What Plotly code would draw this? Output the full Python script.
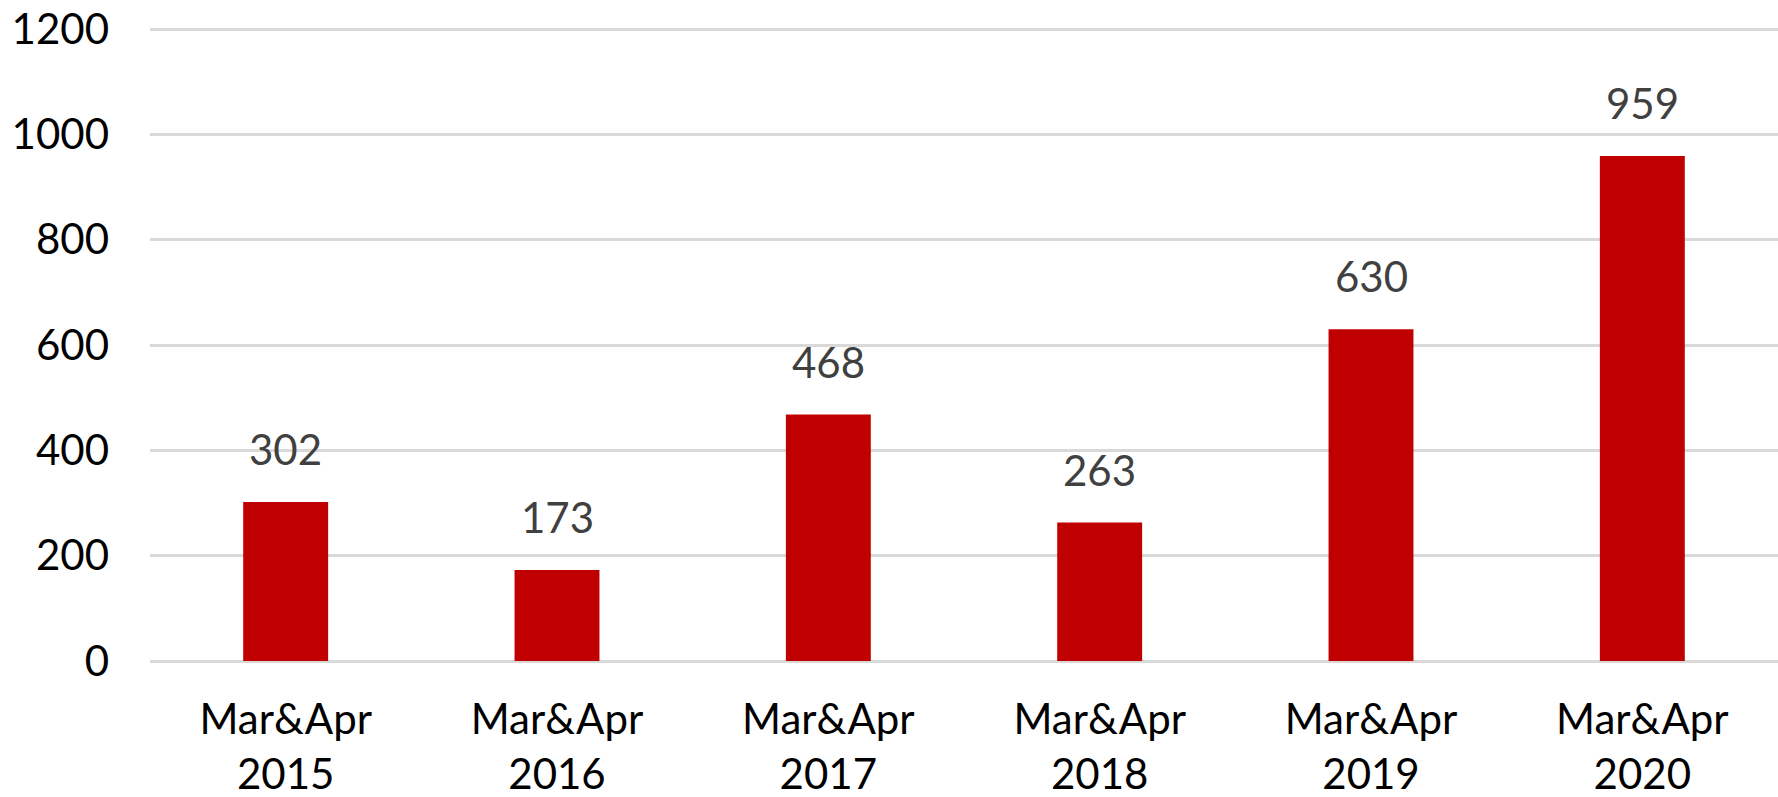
import plotly.graph_objects as go

categories = ["Mar&Apr<br>2015", "Mar&Apr<br>2016", "Mar&Apr<br>2017",
              "Mar&Apr<br>2018", "Mar&Apr<br>2019", "Mar&Apr<br>2020"]
values = [302, 173, 468, 263, 630, 959]
y_ticks = [0, 200, 400, 600, 800, 1000, 1200]

FONT = "Lato"
fig = go.Figure()
fig.add_trace(go.Bar(
    x=categories, y=values,
    marker=dict(color="#c00000", line=dict(width=0)),
    text=[str(v) for v in values],
    textposition="none",
    hoverinfo="x+y",
))

for c, v in zip(categories, values):
    fig.add_annotation(x=c, y=v, text=str(v), showarrow=False,
                       yanchor="bottom", yshift=26,
                       font=dict(family=FONT, size=42, color="#404040"))

fig.update_layout(
    width=1778, height=797,
    margin=dict(l=150, r=0, t=28, b=136, pad=0),
    paper_bgcolor="white", plot_bgcolor="white",
    bargap=0.687,
    showlegend=False,
    font=dict(family=FONT, size=42, color="#000000"),
    xaxis=dict(
        showgrid=False, showline=False, ticks="", automargin=False,
        tickfont=dict(family=FONT, size=42, color="#000000"),
        ticklabelstandoff=30,
    ),
    yaxis=dict(
        range=[0, 1202], tickvals=y_ticks, automargin=False,
        showgrid=True, gridcolor="#d9d9d9", gridwidth=3,
        zeroline=True, zerolinecolor="#d9d9d9", zerolinewidth=3,
        showline=False, ticks="",
        tickfont=dict(family=FONT, size=42, color="#000000"),
        ticklabelstandoff=40,
    ),
)

fig.write_html(
    "out.html",
    config={"displayModeBar": False},
    post_script="document.body.style.margin='0';document.body.style.overflow='hidden';",
)
